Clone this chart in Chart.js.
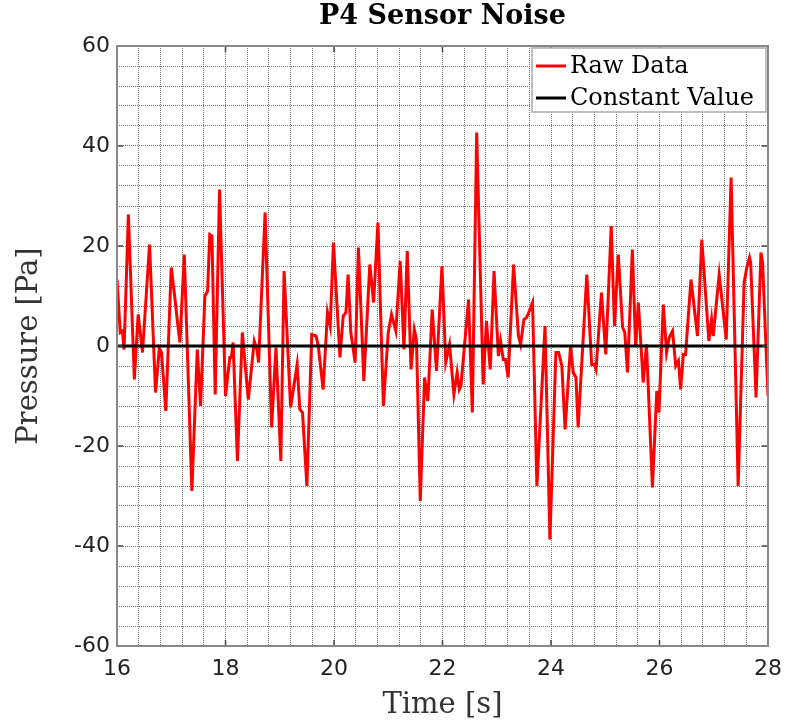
<!DOCTYPE html>
<html lang="en">
<head>
    <meta charset="UTF-8">
    <title>P4 Sensor Noise</title>
    <script src="https://cdn.jsdelivr.net/npm/chart.js"></script>
    <style>
        body {
            margin: 0;
            padding: 0;
            overflow: hidden;
            background-color: #ffffff;
        }

        .chart-container {
            position: relative;
            width: 785px;
            height: 723px;
        }

        canvas {
            display: block;
        }
    </style>
</head>
<body>
    <div class="chart-container">
        <canvas id="noiseChart"></canvas>
    </div>

    <script>
        // values
        const timeValues = [
            16.00, 16.06, 16.10, 16.13, 16.21, 16.32, 16.39, 16.47, 16.60, 16.71, 16.78, 16.82, 16.90, 17.00, 17.07, 17.12, 17.16, 17.24, 17.38, 17.48, 17.54, 17.62, 17.67, 17.71, 17.75, 17.81, 17.89,
            18.00, 18.08, 18.11, 18.14, 18.22, 18.31, 18.42, 18.53, 18.58, 18.61, 18.73, 18.85, 18.93, 19.02, 19.08, 19.20, 19.32, 19.37, 19.42, 19.50, 19.59, 19.67, 19.71, 19.80, 19.88, 19.93, 19.99,
            20.11, 20.17, 20.22, 20.26, 20.31, 20.39, 20.45, 20.55, 20.66, 20.73, 20.81, 20.91, 21.00, 21.06, 21.14, 21.22, 21.29, 21.35, 21.42, 21.48, 21.52, 21.59, 21.67, 21.73, 21.81, 21.89, 21.99,
            22.06, 22.13, 22.21, 22.27, 22.31, 22.34, 22.48, 22.55, 22.63, 22.75, 22.81, 22.88, 22.95, 23.03, 23.07, 23.12, 23.16, 23.21, 23.31, 23.40, 23.44, 23.50, 23.55, 23.60, 23.66, 23.74, 23.89, 23.98,
            24.09, 24.14, 24.20, 24.26, 24.36, 24.41, 24.46, 24.50, 24.66, 24.75, 24.80, 24.83, 24.93, 25.01, 25.11, 25.17, 25.24, 25.32, 25.36, 25.41, 25.50, 25.56, 25.61, 25.70, 25.76, 25.87, 25.95, 25.99,
            26.07, 26.13, 26.18, 26.24, 26.30, 26.35, 26.39, 26.44, 26.48, 26.58, 26.70, 26.78, 26.91, 26.96, 26.99, 27.10, 27.23, 27.32, 27.45, 27.56, 27.61, 27.66, 27.68, 27.78, 27.87, 27.90, 28.00
        ];
        const rawValues = [
            13.3, 2.7, 3.0, -0.7, 26.3, -6.7, 6.3, -1.3, 20.3, -9.3, -0.5, -1.3, -13.0, 15.7, 9.3, 4.3, 0.7, 18.3, -29.0, -0.7, -12.0, 10.0, 11.0, 22.3, 22.0, -9.7, 31.3,
            -10.0, -2.3, -2.3, 0.7, -23.0, 2.7, -10.7, 1.0, -0.7, -3.3, 26.7, -16.3, -0.3, -23.0, 15.0, -12.3, -3.7, -12.7, -13.3, -28.0, 2.3, 2.0, 0.0, -8.7, 6.7, 4.0, 20.7,
            -2.3, 6.0, 6.7, 14.3, 2.7, -3.3, 19.7, -7.0, 16.3, 8.7, 24.7, -12.0, 2.7, 6.3, 3.0, 17.0, -0.7, 19.0, -4.7, 3.3, 1.3, -31.0, -6.3, -11.0, 7.3, -5.0, 16.0,
            -3.3, 0.3, -9.7, -5.3, -8.7, -8.0, 9.3, -13.3, 42.7, -7.7, 5.0, -4.7, 15.0, -2.0, 1.0, -2.7, -2.7, -6.3, 16.3, 2.0, 0.3, 5.3, 5.7, 7.0, 8.7, -28.0, 4.0, -38.7,
            -1.3, -1.3, -4.0, -16.7, 0.0, -5.3, -6.3, -16.3, 14.3, -3.7, -3.7, -4.7, 10.7, -1.7, 24.0, 4.0, 18.3, 3.7, 2.7, -5.3, 19.3, 0.0, 8.7, -7.3, 0.3, -28.3, -9.0, -13.3,
            8.3, -1.3, 1.7, 3.0, -4.0, -3.0, -8.7, -1.7, -1.7, 13.3, 2.0, 21.3, 1.0, 5.3, 2.0, 14.3, 1.3, 33.7, -28.0, 12.7, 15.7, 17.7, 16.7, -10.3, 18.7, 16.7, -10.0
        ];
        const constantTimes = [16, 28];
        const constantValues = [0, 0];
        const xTickLabels = [16, 18, 20, 22, 24, 26, 28];
        const yTickLabels = [-60, -40, -20, 0, 20, 40, 60];

        const serif = "'DejaVu Serif', 'Liberation Serif', serif";
        const sans = "'DejaVu Sans', 'Liberation Sans', sans-serif";

        function isLabelled(value, list) {
            return list.some(v => Math.abs(v - value) < 1e-6);
        }

        // frame, major tick marks and the boxed legend in the top right corner
        const frameAndLegend = {
            id: 'frameAndLegend',
            afterDraw(chart) {
                const { ctx, chartArea: a, scales } = chart;
                ctx.save();

                ctx.strokeStyle = '#444444';
                ctx.lineWidth = 1.5;
                ctx.beginPath();
                xTickLabels.forEach(t => {
                    const px = scales.x.getPixelForValue(t);
                    ctx.moveTo(px, a.bottom); ctx.lineTo(px, a.bottom - 6);
                    ctx.moveTo(px, a.top); ctx.lineTo(px, a.top + 6);
                });
                yTickLabels.forEach(v => {
                    const py = scales.y.getPixelForValue(v);
                    ctx.moveTo(a.left, py); ctx.lineTo(a.left + 6, py);
                    ctx.moveTo(a.right, py); ctx.lineTo(a.right - 6, py);
                });
                ctx.stroke();

                ctx.strokeStyle = '#888888';
                ctx.lineWidth = 2;
                ctx.strokeRect(a.left, a.top, a.right - a.left, a.bottom - a.top);

                const boxLeft = a.right - 236;
                const boxTop = a.top + 2;
                ctx.fillStyle = '#ffffff';
                ctx.fillRect(boxLeft, boxTop, 234, 64);
                ctx.strokeStyle = '#aaaaaa';
                ctx.lineWidth = 1.5;
                ctx.strokeRect(boxLeft, boxTop, 234, 64);

                ctx.font = "24px " + serif;
                ctx.textBaseline = 'middle';
                const rows = [chart.data.datasets[1], chart.data.datasets[0]];
                rows.forEach((ds, i) => {
                    const y = boxTop + 18 + i * 32;
                    ctx.strokeStyle = ds.borderColor;
                    ctx.lineWidth = 3;
                    ctx.beginPath();
                    ctx.moveTo(boxLeft + 4, y);
                    ctx.lineTo(boxLeft + 34, y);
                    ctx.stroke();
                    ctx.fillStyle = '#000000';
                    ctx.fillText(ds.label, boxLeft + 38, y + 1);
                });
                ctx.restore();
            }
        };

        const gridStyle = {
            color: '#7a7a7a',
            lineWidth: 1,
            drawTicks: false
        };
        const dotted = { display: false, dash: [1, 1] };

        const ctx = document.getElementById('noiseChart').getContext('2d');
        new Chart(ctx, {
            type: 'line',
            data: {
                datasets: [
                    {
                        label: 'Constant Value',
                        data: constantTimes.map((t, i) => ({ x: t, y: constantValues[i] })),
                        borderColor: '#000000',
                        borderWidth: 3,
                        pointRadius: 0,
                        order: 1
                    },
                    {
                        label: 'Raw Data',
                        data: timeValues.map((t, i) => ({ x: t, y: rawValues[i] })),
                        borderColor: '#ff0000',
                        borderWidth: 3,
                        pointRadius: 0,
                        tension: 0,
                        order: 2
                    }
                ]
            },
            options: {
                responsive: true,
                maintainAspectRatio: false,
                animation: false,
                layout: {
                    padding: { left: 0, right: 17, top: 0, bottom: 0 }
                },
                plugins: {
                    legend: { display: false },
                    tooltip: { enabled: false },
                    title: { display: false }
                },
                scales: {
                    x: {
                        type: 'linear',
                        min: 16,
                        max: 28,
                        border: dotted,
                        grid: gridStyle,
                        ticks: {
                            stepSize: 0.4,
                            autoSkip: false,
                            maxRotation: 0,
                            padding: 10,
                            color: '#222222',
                            font: { family: sans, size: 22 },
                            callback: v => isLabelled(v, xTickLabels) ? Math.round(v) : ''
                        },
                        title: {
                            display: true,
                            text: 'Time [s]',
                            color: '#333333',
                            font: { family: serif, size: 29 },
                            padding: { top: 0, bottom: 0 }
                        },
                        afterFit: scale => {
                            scale.height = 77;
                            scale.paddingLeft = 0;
                            scale.paddingRight = 0;
                        }
                    },
                    // top axis only carries the chart title, centred over the plot
                    xTitle: {
                        type: 'linear',
                        position: 'top',
                        min: 16,
                        max: 28,
                        border: { display: false },
                        grid: { display: false, drawTicks: false },
                        ticks: { display: false },
                        title: {
                            display: true,
                            text: 'P4 Sensor Noise',
                            color: '#000000',
                            font: { family: serif, size: 27, weight: 'bold' },
                            padding: { top: 1, bottom: 0 }
                        },
                        afterFit: scale => {
                            scale.height = 46;
                            scale.paddingLeft = 0;
                            scale.paddingRight = 0;
                        }
                    },
                    y: {
                        type: 'linear',
                        min: -60,
                        max: 60,
                        border: dotted,
                        grid: gridStyle,
                        ticks: {
                            stepSize: 4,
                            autoSkip: false,
                            padding: 7,
                            color: '#222222',
                            font: { family: sans, size: 22 },
                            callback: v => isLabelled(v, yTickLabels) ? Math.round(v) : ''
                        },
                        title: {
                            display: true,
                            text: 'Pressure [Pa]',
                            color: '#333333',
                            font: { family: serif, size: 29 },
                            padding: { top: 12, bottom: 0 }
                        },
                        afterFit: scale => { scale.width = 117; }
                    }
                }
            },
            plugins: [frameAndLegend]
        });
    </script>
</body>
</html>
